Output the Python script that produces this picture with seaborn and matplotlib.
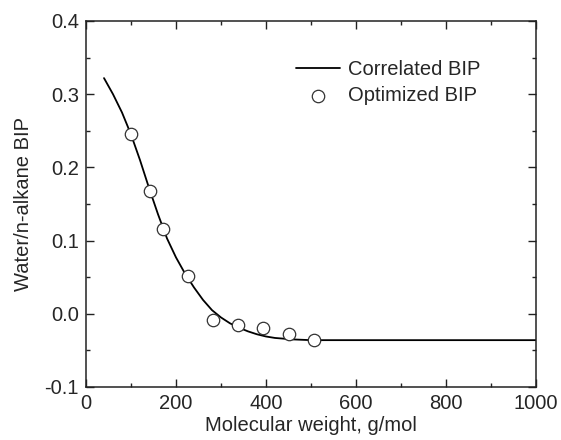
import matplotlib
matplotlib.use("Agg")
import matplotlib.pyplot as plt
import seaborn as sns
import pandas as pd
from matplotlib.ticker import MultipleLocator

# Correlated BIP curve
curve_mw = [40, 60, 80, 100, 120, 140, 160, 180, 200, 220, 240, 260, 280, 300,
            320, 340, 360, 380, 400, 420, 440, 460, 480, 500, 520, 1000]
curve_bip = [0.322, 0.300, 0.275, 0.245, 0.210, 0.172, 0.136, 0.103, 0.077, 0.055,
             0.036, 0.019, 0.005, -0.005, -0.013, -0.019, -0.024, -0.028, -0.031,
             -0.033, -0.034, -0.035, -0.0355, -0.036, -0.036, -0.036]

# Optimized BIP points
opt_mw = [100, 142, 170, 226, 282, 338, 394, 450, 506]
opt_bip = [0.245, 0.168, 0.116, 0.052, -0.009, -0.015, -0.020, -0.028, -0.036]

sns.set_style("ticks")
plt.rcParams['font.family'] = ['Liberation Sans', 'DejaVu Sans']

FS = 14.5
fig = plt.figure(figsize=(5.61, 4.40), dpi=100)
ax = fig.add_axes([86/561, 1-387/440, 450/561, 366/440])

curve = pd.DataFrame({"mw": curve_mw, "bip": curve_bip})
pts = pd.DataFrame({"mw": opt_mw, "bip": opt_bip})

sns.lineplot(data=curve, x="mw", y="bip", ax=ax, color="black", lw=1.3,
             label="Correlated BIP")
sns.scatterplot(data=pts, x="mw", y="bip", ax=ax, s=80, facecolor="white",
                edgecolor="#333333", linewidth=0.9, label="Optimized BIP", zorder=3)

ax.set_xlim(0, 1000)
ax.set_ylim(-0.1, 0.4)
ax.set_xticks([0, 200, 400, 600, 800, 1000])
ax.set_xticklabels(["0", "200", "400", "600", "800", "1000"])
ax.xaxis.set_minor_locator(MultipleLocator(100))
ax.set_yticks([-0.1, 0.0, 0.1, 0.2, 0.3, 0.4])
ax.set_yticklabels(["-0.1", "0.0", "0.1", "0.2", "0.3", "0.4"])
ax.yaxis.set_minor_locator(MultipleLocator(0.05))
ax.tick_params(which="both", direction="in", top=True, right=True, labelsize=FS,
               color="#222222", pad=5)
ax.tick_params(which="major", length=5.5, width=1)
ax.tick_params(which="minor", length=3, width=1)
for s in ax.spines.values():
    s.set_linewidth(1.1)
    s.set_color("#222222")

ax.set_xlabel("Molecular weight, g/mol", fontsize=FS, labelpad=2)
ax.set_ylabel("Water/n-alkane BIP", fontsize=FS, labelpad=8)

ax.legend(loc="upper left", bbox_to_anchor=(0.467, 0.893), frameon=False,
          fontsize=FS, handlelength=2.2, handletextpad=0.35, labelspacing=0.35,
          borderpad=0, borderaxespad=0)

fig.savefig("out.png", dpi=100)
